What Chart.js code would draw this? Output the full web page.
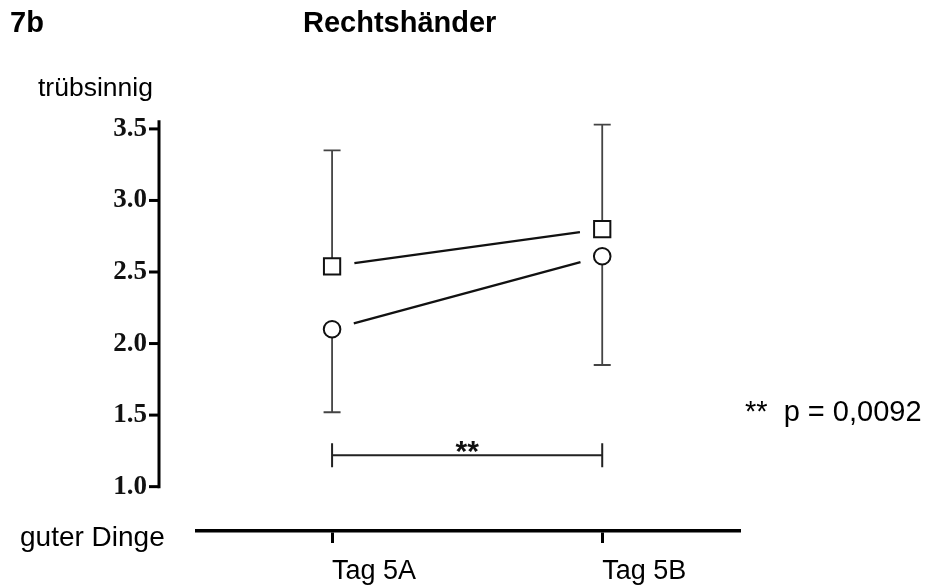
<!DOCTYPE html>
<html>
<head>
<meta charset="utf-8">
<script src="https://cdn.jsdelivr.net/npm/chart.js@4/dist/chart.umd.min.js"></script>
<style>
  html, body { margin: 0; padding: 0; background: #fff; }
  #wrap { width: 926px; height: 587px; }
</style>
</head>
<body>
<div id="wrap"><canvas id="c" width="926" height="587"></canvas></div>
<script>
// Measurement days on the x axis
const categories = ['Tag 5A', 'Tag 5B'];
// Mood scale ticks
const yTicks = [1.0, 1.5, 2.0, 2.5, 3.0, 3.5];
// Square series: means and upper whisker ends
const squareMeans = [2.54, 2.80];
const squareUpper = [3.35, 3.53];
// Circle series: means and lower whisker ends
const circleMeans = [2.10, 2.61];
const circleLower = [1.52, 1.85];
// Significance bracket between the two days
const bracketLevel = 1.22;
const bracketLabel = '**';
const pValueNote = '**  p = 0,0092';
const panelLabel = '7b';
const panelTitle = 'Rechtshänder';
const topAnchor = 'trübsinnig';
const bottomAnchor = 'guter Dinge';

const SANS = "'Liberation Sans', Arial, sans-serif";
const SERIF = "'Liberation Serif', 'Times New Roman', serif";

const toPoints = vals => vals.map((v, i) => ({ x: i, y: v }));

const decorations = {
  id: 'decorations',
  beforeDatasetsDraw(chart) {
    const { ctx, scales: { x, y } } = chart;
    ctx.save();
    // whiskers (one-sided)
    ctx.strokeStyle = '#444';
    ctx.lineWidth = 1.8;
    const whisker = (i, from, to) => {
      const px = x.getPixelForValue(i);
      const y0 = y.getPixelForValue(from);
      const y1 = y.getPixelForValue(to);
      ctx.beginPath();
      ctx.moveTo(px, y0);
      ctx.lineTo(px, y1);
      ctx.moveTo(px - 8.5, y1);
      ctx.lineTo(px + 8.5, y1);
      ctx.stroke();
    };
    squareMeans.forEach((m, i) => whisker(i, m, squareUpper[i]));
    circleMeans.forEach((m, i) => whisker(i, m, circleLower[i]));

    // connecting lines, kept clear of the markers
    ctx.strokeStyle = '#111';
    ctx.lineWidth = 2.3;
    const gap = 22.5;
    const connect = vals => {
      for (let i = 0; i < vals.length - 1; i++) {
        const ax = x.getPixelForValue(i), ay = y.getPixelForValue(vals[i]);
        const bx = x.getPixelForValue(i + 1), by = y.getPixelForValue(vals[i + 1]);
        const len = Math.hypot(bx - ax, by - ay);
        const ux = (bx - ax) / len, uy = (by - ay) / len;
        ctx.beginPath();
        ctx.moveTo(ax + ux * gap, ay + uy * gap);
        ctx.lineTo(bx - ux * gap, by - uy * gap);
        ctx.stroke();
      }
    };
    connect(squareMeans);
    connect(circleMeans);
    ctx.restore();
  },
  afterDraw(chart) {
    const { ctx, chartArea, scales: { x, y } } = chart;
    ctx.save();

    // detached y axis spine with tick marks
    const sx = chartArea.left - 38;
    ctx.strokeStyle = '#000';
    ctx.lineWidth = 3;
    ctx.beginPath();
    ctx.moveTo(sx, y.getPixelForValue(yTicks[0]) + 1.5);
    ctx.lineTo(sx, y.getPixelForValue(3.56));
    ctx.stroke();
    yTicks.forEach(v => {
      const py = y.getPixelForValue(v);
      ctx.beginPath();
      ctx.moveTo(sx - 10, py);
      ctx.lineTo(sx, py);
      ctx.stroke();
    });

    // significance bracket
    const bx0 = x.getPixelForValue(0), bx1 = x.getPixelForValue(1);
    const by = y.getPixelForValue(bracketLevel);
    ctx.strokeStyle = '#222';
    ctx.lineWidth = 2;
    ctx.beginPath();
    ctx.moveTo(bx0, by); ctx.lineTo(bx1, by);
    ctx.moveTo(bx0, by - 12); ctx.lineTo(bx0, by + 12);
    ctx.moveTo(bx1, by - 12); ctx.lineTo(bx1, by + 12);
    ctx.stroke();
    ctx.fillStyle = '#111';
    ctx.font = `bold 30px ${SANS}`;
    ctx.textAlign = 'center';
    ctx.textBaseline = 'alphabetic';
    ctx.fillText(bracketLabel, (bx0 + bx1) / 2, by + 6);

    // headings and annotations
    ctx.fillStyle = '#000';
    ctx.textAlign = 'left';
    ctx.font = `bold 29px ${SANS}`;
    ctx.fillText(panelLabel, 10, 32);
    ctx.fillText(panelTitle, 303, 32);
    ctx.font = `26.5px ${SANS}`;
    ctx.fillText(topAnchor, 38, 96);
    ctx.font = `28px ${SANS}`;
    ctx.fillText(bottomAnchor, 20, 546);
    ctx.font = `29px ${SANS}`;
    ctx.fillText(pValueNote, 745, 421);
    ctx.restore();
  }
};

new Chart(document.getElementById('c'), {
  type: 'scatter',
  data: {
    datasets: [
      {
        label: 'Quadrate',
        data: toPoints(squareMeans),
        pointStyle: 'rect',
        pointRadius: 11.5,
        pointBorderWidth: 2,
        pointBorderColor: '#111',
        pointBackgroundColor: '#fff',
        showLine: false
      },
      {
        label: 'Kreise',
        data: toPoints(circleMeans),
        pointStyle: 'circle',
        pointRadius: 8.3,
        pointBorderWidth: 2,
        pointBorderColor: '#111',
        pointBackgroundColor: '#fff',
        showLine: false
      }
    ]
  },
  options: {
    responsive: false,
    animation: false,
    devicePixelRatio: 1,
    layout: { padding: { left: 0, right: 186, top: 114.6, bottom: 0 } },
    plugins: { legend: { display: false }, tooltip: { enabled: false } },
    scales: {
      x: {
        type: 'linear',
        min: -0.5,
        max: 1.51,
        afterBuildTicks: s => { s.ticks = categories.map((_, i) => ({ value: i })); },
        afterFit: s => { s.height = 56; },
        grid: { display: true, drawOnChartArea: false, drawTicks: true, tickLength: 12, tickWidth: 3, tickColor: '#000', color: '#000' },
        border: { display: true, width: 3.5, color: '#000' },
        ticks: {
          align: 'start',
          padding: 12,
          autoSkip: false,
          maxRotation: 0,
          color: '#000',
          font: { family: SANS, size: 27 },
          callback: v => categories[v]
        }
      },
      y: {
        type: 'linear',
        min: 0.69,
        max: 3.6,
        afterBuildTicks: s => { s.ticks = yTicks.map(v => ({ value: v })); },
        afterFit: s => { s.width = 197; s.paddingTop = 0; s.paddingBottom = 0; },
        grid: { display: false, drawTicks: false },
        border: { display: false },
        ticks: {
          padding: 50,
          color: '#111',
          font: { family: SERIF, weight: 'bold', size: 27 },
          callback: v => Number(v).toFixed(1)
        }
      }
    }
  },
  plugins: [decorations]
});
</script>
</body>
</html>
